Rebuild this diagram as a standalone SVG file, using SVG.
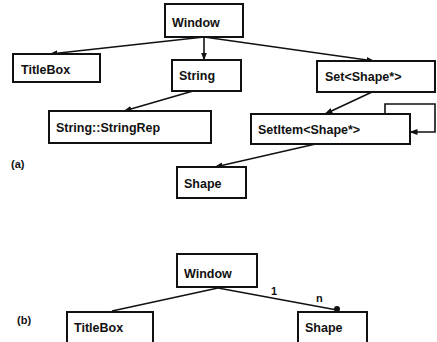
<svg xmlns="http://www.w3.org/2000/svg" width="437" height="342" viewBox="0 0 437 342">
  <style>
    .box { fill: #ffffff; stroke: #111111; stroke-width: 2; }
    .lbl { font-family: "Liberation Sans", Arial, sans-serif; font-weight: bold; font-size: 12.5px; fill: #111111; }
    .tag { font-family: "Liberation Sans", Arial, sans-serif; font-weight: bold; font-size: 11px; fill: #111111; }
    .edge { fill: none; stroke: #111111; stroke-width: 1.6; }
  </style>
  <defs>
    <marker id="arrow" markerWidth="8" markerHeight="6" refX="7.5" refY="3" orient="auto" markerUnits="userSpaceOnUse">
      <path d="M0,0 L8,3 L0,6 Z" fill="#111111"/>
    </marker>
  </defs>
  <rect width="437" height="342" fill="#ffffff"/>

  <!-- (a) class structure -->
  <g id="connectors-a">
    <line class="edge" x1="204" y1="37" x2="50" y2="54" marker-end="url(#arrow)"/>
    <line class="edge" x1="204" y1="37" x2="204" y2="60" marker-end="url(#arrow)"/>
    <line class="edge" x1="204" y1="37" x2="374" y2="61" marker-end="url(#arrow)"/>
    <line class="edge" x1="193" y1="91" x2="124" y2="111" marker-end="url(#arrow)"/>
    <line class="edge" x1="372" y1="92" x2="325" y2="114" marker-end="url(#arrow)"/>
    <line class="edge" x1="320" y1="143" x2="215" y2="167" marker-end="url(#arrow)"/>
    <path class="edge" d="M385,114 V104 H435 V132 H410" marker-end="url(#arrow)"/>
  </g>

  <g id="window-a">
    <rect class="box" x="165" y="4" width="78" height="33"/>
    <text class="lbl" x="172" y="27">Window</text>
  </g>
  <g id="titlebox-a">
    <rect class="box" x="13" y="54" width="87" height="28"/>
    <text class="lbl" x="21" y="74">TitleBox</text>
  </g>
  <g id="string">
    <rect class="box" x="172" y="60" width="69" height="31"/>
    <text class="lbl" x="179" y="80">String</text>
  </g>
  <g id="set-shape">
    <rect class="box" x="317" y="61" width="118" height="31"/>
    <text class="lbl" x="325" y="81">Set&lt;Shape*&gt;</text>
  </g>
  <g id="string-rep">
    <rect class="box" x="49" y="111" width="162" height="32"/>
    <text class="lbl" x="56" y="132">String::StringRep</text>
  </g>
  <g id="setitem-shape">
    <rect class="box" x="251" y="114" width="159" height="30"/>
    <text class="lbl" x="258" y="134">SetItem&lt;Shape*&gt;</text>
  </g>
  <g id="shape-a">
    <rect class="box" x="177" y="167" width="69" height="31"/>
    <text class="lbl" x="184" y="188">Shape</text>
  </g>
  <text class="tag" x="11" y="168">(a)</text>

  <!-- (b) association view -->
  <g id="connectors-b">
    <line class="edge" x1="218" y1="288" x2="112" y2="311"/>
    <line class="edge" x1="218" y1="288" x2="337" y2="310"/>
    <circle cx="337" cy="309" r="3" fill="#111111"/>
    <text class="tag" x="271" y="295">1</text>
    <text class="tag" x="316" y="302">n</text>
  </g>
  <g id="window-b">
    <rect class="box" x="177" y="254" width="80" height="33"/>
    <text class="lbl" x="184" y="278">Window</text>
  </g>
  <g id="titlebox-b">
    <rect class="box" x="67" y="312" width="86" height="40"/>
    <text class="lbl" x="74" y="332">TitleBox</text>
  </g>
  <g id="shape-b">
    <rect class="box" x="298" y="312" width="69" height="40"/>
    <text class="lbl" x="305" y="332">Shape</text>
  </g>
  <text class="tag" x="17" y="324">(b)</text>
</svg>
